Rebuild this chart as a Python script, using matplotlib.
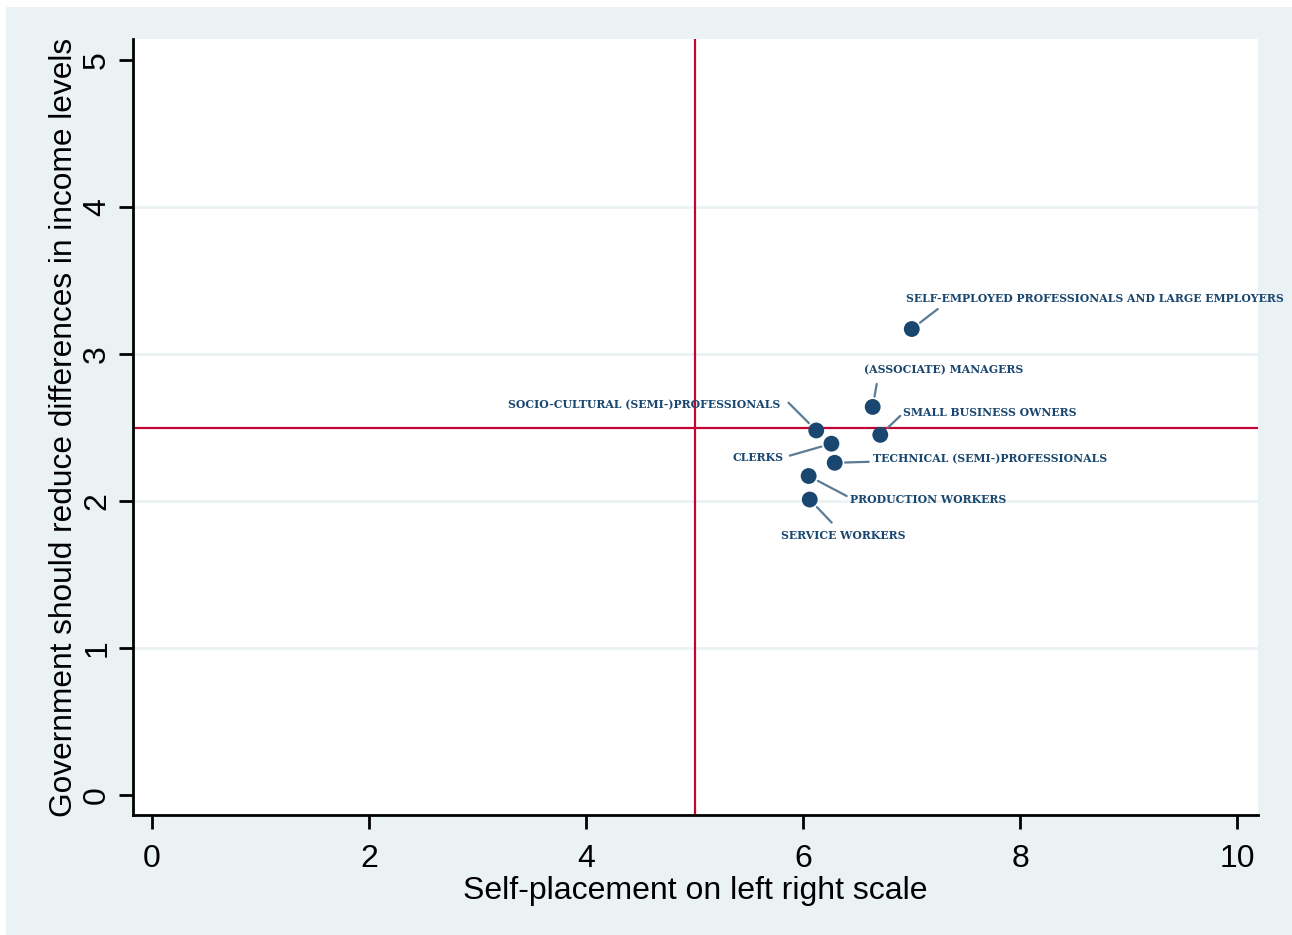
import matplotlib.pyplot as plt
from matplotlib.patches import Rectangle

# data
groups = ["SELF-EMPLOYED PROFESSIONALS AND LARGE EMPLOYERS", "(ASSOCIATE) MANAGERS",
          "SMALL BUSINESS OWNERS", "SOCIO-CULTURAL (SEMI-)PROFESSIONALS", "CLERKS",
          "TECHNICAL (SEMI-)PROFESSIONALS", "PRODUCTION WORKERS", "SERVICE WORKERS"]
left_right = [7.00, 6.64, 6.71, 6.12, 6.26, 6.29, 6.05, 6.06]
reduce_diff = [3.17, 2.64, 2.45, 2.48, 2.39, 2.26, 2.17, 2.01]
x_ticks = [0, 2, 4, 6, 8, 10]
y_ticks = [0, 1, 2, 3, 4, 5]
x_ref, y_ref = 5, 2.5

# text offset, connector end (points) and alignment, like Stata clock positions
text_off = [(-4.3, 22), (-6.5, 26.6), (16.6, 15.8), (-25.9, 18.7),
            (-34.5, -10), (27.4, 2.9), (30, -16.6), (-20.9, -26)]
line_end = [(18.7, 14.4), (2.9, 16.6), (14.4, 13.7), (-20, 20),
            (-30, -8.6), (24.5, 0.7), (27.4, -14.4), (15.8, -16.6)]
text_ha = ["left", "left", "left", "right", "right", "left", "left", "left"]

navy = "#1a476f"
bg = "#eaf2f3"

fig = plt.figure(figsize=(12.92, 9.35), dpi=100, facecolor="white")
fig.patches.append(Rectangle((6 / 1292, 0), 1, 1 - 7 / 935, transform=fig.transFigure,
                             facecolor=bg, edgecolor="none", zorder=-10))
ax = fig.add_axes([133 / 1292, 1 - 815 / 935, 1125 / 1292, 776 / 935])
ax.set_facecolor("white")

ax.set_xlim(-0.175, 10.19)
ax.set_ylim(-0.136, 5.143)

for yv in y_ticks[1:-1]:
    ax.axhline(yv, color=bg, lw=2, zorder=0)

ax.axvline(x_ref, color="#c10534", lw=1.6, zorder=1)
ax.axhline(y_ref, color="#c10534", lw=1.6, zorder=1)

ax.scatter(left_right, reduce_diff, s=130, color=navy, zorder=3, edgecolors="none")

for name, x, y, toff, loff, ha in zip(groups, left_right, reduce_diff, text_off, line_end, text_ha):
    ax.annotate("", (x, y), xytext=loff, textcoords="offset points",
                arrowprops=dict(arrowstyle="-", color="#5b7b94", lw=1.6,
                                shrinkA=0, shrinkB=7.5))
    ax.annotate(name, (x, y), xytext=toff, textcoords="offset points", ha=ha, va="center",
                fontsize=7.85, color=navy, family="DejaVu Serif", fontweight="bold")

for side in ["top", "right"]:
    ax.spines[side].set_visible(False)
for side in ["left", "bottom"]:
    ax.spines[side].set_linewidth(2)

ax.set_xticks(x_ticks)
ax.set_yticks(y_ticks)
ax.tick_params(length=10, width=2, labelsize=23)
ax.tick_params(axis="x", pad=11)
ax.tick_params(axis="y", pad=5)
for lab in ax.get_xticklabels() + ax.get_yticklabels():
    lab.set_family("Liberation Sans")
plt.setp(ax.get_yticklabels(), rotation=90, va="center")
ax.set_xlabel("Self-placement on left right scale", fontsize=23, labelpad=1,
              family="Liberation Sans")
ax.set_ylabel("Government should reduce differences in income levels", fontsize=22.8,
              labelpad=2, family="Liberation Sans")

fig.savefig("out.png", dpi=100, facecolor=fig.get_facecolor())
